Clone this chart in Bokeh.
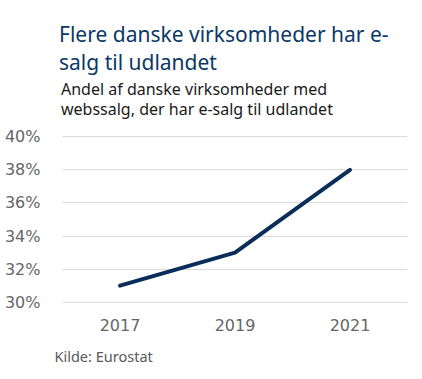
from bokeh.plotting import figure
from bokeh.layouts import column
from bokeh.models import Div, Range1d, FixedTicker, CustomJSTickFormatter
from bokeh.embed import file_html
from bokeh.resources import INLINE

years = [2017, 2019, 2021]
share = [31, 33, 38]
y_ticks = [30, 32, 34, 36, 38, 40]
title_lines = ["Flere danske virksomheder har e-", "salg til udlandet"]
subtitle_lines = ["Andel af danske virksomheder med", "webssalg, der har e-salg til udlandet"]
source_text = "Kilde: Eurostat"

FONT = "Noto Sans"
TICK_FONT = "DejaVu Sans"
W = 414

# header: title + subtitle
header_html = (
    '<div style="margin:0;padding:19.5px 0 0 59px;font-family:\'Noto Sans\';font-size:21px;'
    'line-height:28px;color:#0b3866;white-space:nowrap;">'
    + "<br>".join(title_lines) + "</div>"
    '<div style="margin:0;padding:3.3px 0 0 61px;font-family:\'Noto Sans\';font-size:16px;'
    'line-height:20px;color:#1a1a1a;white-space:nowrap;">'
    + "<br>".join(subtitle_lines) + "</div>"
)
header = Div(text=header_html, width=W, height=121, styles={"margin": "0", "padding": "0"})

# main chart
p = figure(width=W, height=224, output_backend="svg", toolbar_location=None,
           title=None, x_range=Range1d(2016, 2022), y_range=Range1d(29.8, 40.2),
           min_border_left=62, min_border_right=7, min_border_top=12, min_border_bottom=40)
p.line(years, share, line_color="#0a2d5a", line_width=4, line_cap="round", line_join="round")
p.outline_line_color = None
p.background_fill_color = "white"
p.border_fill_color = "white"
p.xgrid.grid_line_color = None
p.ygrid.grid_line_color = "#d9d9d9"
p.ygrid.grid_line_width = 1
p.yaxis.ticker = FixedTicker(ticks=y_ticks)
p.xaxis.ticker = FixedTicker(ticks=years)
p.yaxis.formatter = CustomJSTickFormatter(code="return tick.toFixed(0) + '%';")
p.xaxis.formatter = CustomJSTickFormatter(code="return tick.toFixed(0);")
for ax in (p.xaxis, p.yaxis):
    ax.axis_line_color = None
    ax.major_tick_line_color = None
    ax.minor_tick_line_color = None
    ax.major_label_text_font = TICK_FONT
    ax.major_label_text_font_size = "16px"
    ax.major_label_text_color = "#666666"
p.yaxis.major_label_standoff = 16
p.xaxis.major_label_standoff = 7

# footer: source
footer_html = (
    '<div style="margin:0;padding:1px 0 0 54.5px;font-family:\'Noto Sans\';font-size:14.5px;'
    'line-height:20px;color:#595959;white-space:nowrap;">' + source_text + "</div>"
)
footer = Div(text=footer_html, width=W, height=26, styles={"margin": "0", "padding": "0"})

layout = column(header, p, footer, spacing=0)
open("out.html", "w").write(file_html(layout, INLINE))
